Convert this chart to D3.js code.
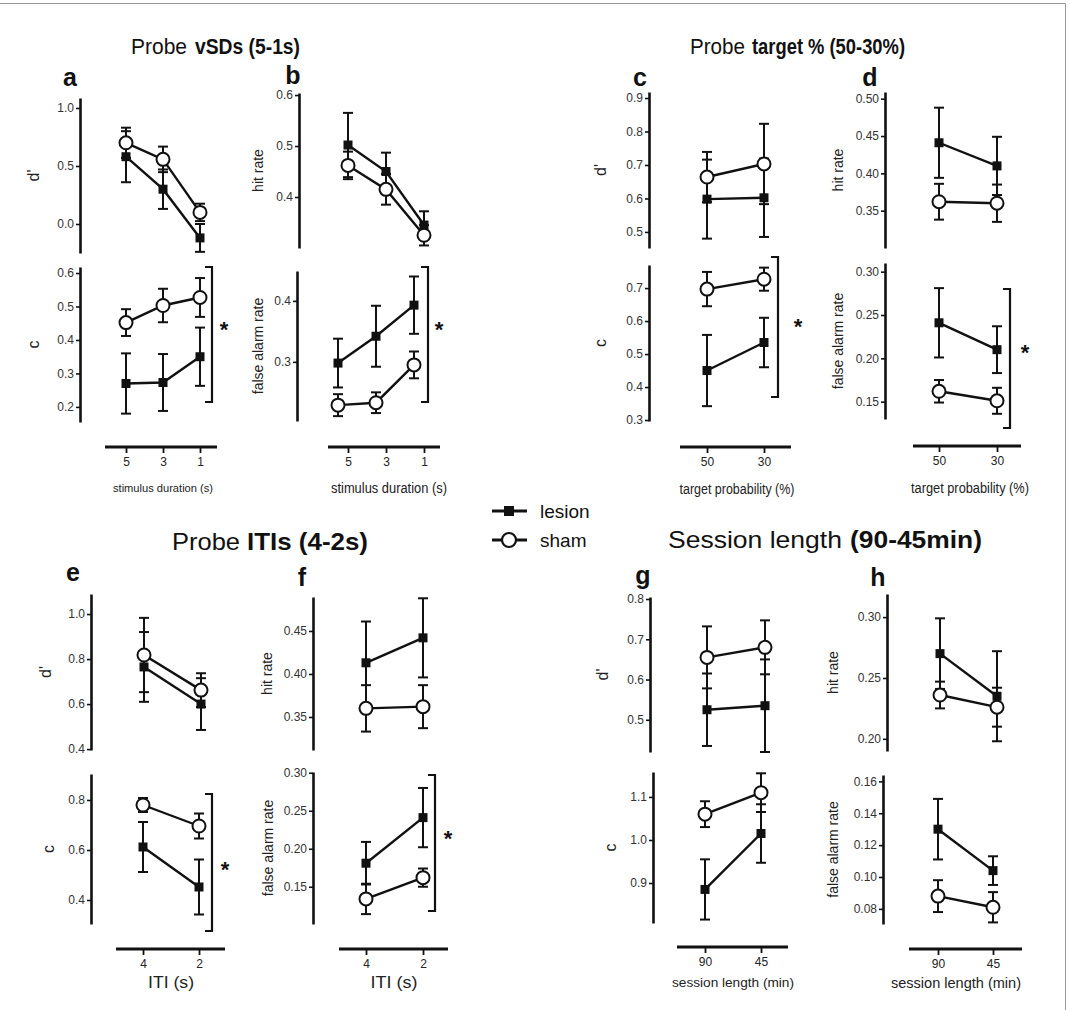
<!DOCTYPE html>
<html lang="en">
<head>
	<meta charset="UTF-8">
	<title>Probe tests</title>
	<style>
		body { margin: 0; background: #fff; }
		text { font-family: "Liberation Sans", Arial, Helvetica, sans-serif; fill: #111; }
	</style>
</head>
<body>
	<script src="https://d3js.org/d3.v7.min.js"></script>
	<script type="text/javascript">
		// categories
		var stimDuration = ["5", "3", "1"];
		var targetProb = ["50", "30"];
		var itiLevels = ["4", "2"];
		var sessionLen = ["90", "45"];

		// tick labels
		var ticksA1 = [0.0, 0.5, 1.0];
		var ticksA2 = [0.2, 0.3, 0.4, 0.5, 0.6];
		var ticksB1 = [0.4, 0.5, 0.6];
		var ticksB2 = [0.3, 0.4];
		var ticksC1 = [0.5, 0.6, 0.7, 0.8, 0.9];
		var ticksC2 = [0.3, 0.4, 0.5, 0.6, 0.7];
		var ticksD1 = [0.35, 0.40, 0.45, 0.50];
		var ticksD2 = [0.15, 0.20, 0.25, 0.30];
		var ticksE1 = [0.4, 0.6, 0.8, 1.0];
		var ticksE2 = [0.4, 0.6, 0.8];
		var ticksF1 = [0.35, 0.40, 0.45];
		var ticksF2 = [0.15, 0.20, 0.25, 0.30];
		var ticksG1 = [0.5, 0.6, 0.7, 0.8];
		var ticksG2 = [0.9, 1.0, 1.1];
		var ticksH1 = [0.20, 0.25, 0.30];
		var ticksH2 = [0.08, 0.10, 0.12, 0.14, 0.16];

		// a: vSDs d' / c
		var aDprimeLesion = [0.58, 0.30, -0.12], aDprimeLesionErr = [0.22, 0.17, 0.12];
		var aDprimeSham = [0.70, 0.557, 0.10], aDprimeShamErr = [0.13, 0.11, 0.075];
		var aCLesion = [0.27, 0.273, 0.35], aCLesionErr = [0.09, 0.085, 0.087];
		var aCSham = [0.452, 0.503, 0.527], aCShamErr = [0.04, 0.05, 0.058];
		// b: vSDs hit / false alarm
		var bHitLesion = [0.502, 0.45, 0.345], bHitLesionErr = [0.063, 0.037, 0.027];
		var bHitSham = [0.462, 0.415, 0.325], bHitShamErr = [0.027, 0.03, 0.02];
		var bFaLesion = [0.298, 0.342, 0.393], bFaLesionErr = [0.04, 0.05, 0.047];
		var bFaSham = [0.229, 0.233, 0.295], bFaShamErr = [0.018, 0.017, 0.022];
		// c: target % d' / c
		var cDprimeLesion = [0.598, 0.602], cDprimeLesionErr = [0.118, 0.117];
		var cDprimeSham = [0.664, 0.703], cDprimeShamErr = [0.075, 0.12];
		var cCLesion = [0.45, 0.535], cCLesionErr = [0.108, 0.075];
		var cCSham = [0.697, 0.727], cCShamErr = [0.052, 0.035];
		// d: target % hit / false alarm
		var dHitLesion = [0.441, 0.41], dHitLesionErr = [0.047, 0.039];
		var dHitSham = [0.362, 0.36], dHitShamErr = [0.024, 0.025];
		var dFaLesion = [0.241, 0.21], dFaLesionErr = [0.04, 0.027];
		var dFaSham = [0.162, 0.151], dFaShamErr = [0.013, 0.015];
		// e: ITIs d' / c
		var eDprimeLesion = [0.765, 0.60], eDprimeLesionErr = [0.155, 0.115];
		var eDprimeSham = [0.818, 0.662], eDprimeShamErr = [0.165, 0.075];
		var eCLesion = [0.612, 0.452], eCLesionErr = [0.10, 0.11];
		var eCSham = [0.78, 0.696], eCShamErr = [0.028, 0.05];
		// f: ITIs hit / false alarm
		var fHitLesion = [0.413, 0.442], fHitLesionErr = [0.048, 0.046];
		var fHitSham = [0.36, 0.362], fHitShamErr = [0.027, 0.025];
		var fFaLesion = [0.181, 0.241], fFaLesionErr = [0.028, 0.039];
		var fFaSham = [0.134, 0.162], fFaShamErr = [0.02, 0.012];
		// g: session length d' / c
		var gDprimeLesion = [0.525, 0.535], gDprimeLesionErr = [0.09, 0.115];
		var gDprimeSham = [0.655, 0.68], gDprimeShamErr = [0.077, 0.067];
		var gCLesion = [0.885, 1.015], gCLesionErr = [0.07, 0.068];
		var gCSham = [1.06, 1.11], gCShamErr = [0.03, 0.045];
		// h: session length hit / false alarm
		var hHitLesion = [0.27, 0.235], hHitLesionErr = [0.029, 0.037];
		var hHitSham = [0.236, 0.226], hHitShamErr = [0.011, 0.016];
		var hFaLesion = [0.13, 0.104], hFaLesionErr = [0.019, 0.009];
		var hFaSham = [0.088, 0.081], hFaShamErr = [0.01, 0.0095];

		var width = 1070;
		var height = 1010;
		var ink = "#111";

		var svg = d3.select("body").append("svg").attr("width", width).attr("height", height);

		// frame
		svg.append("path").attr("d", "M0,3.5H1065.5V1010").attr("fill", "none").attr("stroke", "#999").attr("stroke-width", 1);

		// layout for each panel (positions only)
		var panels = [
			{cats: stimDuration, ticks: ticksA1, fmt: ".1f", lab: "d'", ax: 80, py: [253, 98], dom: [-0.25, 1.086], xr: [126, 200], lx: 33,
				les: aDprimeLesion, lesE: aDprimeLesionErr, sh: aDprimeSham, shE: aDprimeShamErr},
			{cats: stimDuration, ticks: ticksA2, fmt: ".1f", lab: "c", ax: 80, py: [422, 267], dom: [0.155, 0.618], xr: [126, 200], lx: 33,
				les: aCLesion, lesE: aCLesionErr, sh: aCSham, shE: aCShamErr, br: [212, 267, 402], star: [224, 327]},
			{cats: stimDuration, ticks: ticksB1, fmt: ".1f", lab: "hit rate", ax: 299, py: [248, 93], dom: [0.30, 0.604], xr: [348, 424], lx: 258,
				les: bHitLesion, lesE: bHitLesionErr, sh: bHitSham, shE: bHitShamErr},
			{cats: stimDuration, ticks: ticksB2, fmt: ".1f", lab: "false alarm rate", ax: 297, py: [421, 271], dom: [0.203, 0.449], xr: [338, 414], lx: 258,
				les: bFaLesion, lesE: bFaLesionErr, sh: bFaSham, shE: bFaShamErr, br: [428, 267, 402], star: [439, 327]},
			{cats: targetProb, ticks: ticksC1, fmt: ".1f", lab: "d'", ax: 649, py: [248, 92], dom: [0.452, 0.918], xr: [707, 764], lx: 600,
				les: cDprimeLesion, lesE: cDprimeLesionErr, sh: cDprimeSham, shE: cDprimeShamErr},
			{cats: targetProb, ticks: ticksC2, fmt: ".1f", lab: "c", ax: 649, py: [421, 265], dom: [0.297, 0.77], xr: [707, 764], lx: 600,
				les: cCLesion, lesE: cCLesionErr, sh: cCSham, shE: cCShamErr, br: [778, 257, 397], star: [798, 324]},
			{cats: targetProb, ticks: ticksD1, fmt: ".2f", lab: "hit rate", ax: 885, py: [248, 92], dom: [0.30, 0.509], xr: [939, 997], lx: 838,
				les: dHitLesion, lesE: dHitLesionErr, sh: dHitSham, shE: dHitShamErr},
			{cats: targetProb, ticks: ticksD2, fmt: ".2f", lab: "false alarm rate", ax: 885, py: [419, 263], dom: [0.130, 0.310], xr: [939, 997], lx: 838,
				les: dFaLesion, lesE: dFaLesionErr, sh: dFaSham, shE: dFaShamErr, br: [1010, 289, 428], star: [1025, 350]},
			{cats: itiLevels, ticks: ticksE1, fmt: ".1f", lab: "d'", ax: 91, py: [750, 594], dom: [0.396, 1.089], xr: [144, 201], lx: 45,
				les: eDprimeLesion, lesE: eDprimeLesionErr, sh: eDprimeSham, shE: eDprimeShamErr},
			{cats: itiLevels, ticks: ticksE2, fmt: ".1f", lab: "c", ax: 91, py: [924, 774], dom: [0.304, 0.904], xr: [143, 199], lx: 48,
				les: eCLesion, lesE: eCLesionErr, sh: eCSham, shE: eCShamErr, br: [212, 794, 931], star: [225, 867]},
			{cats: itiLevels, ticks: ticksF1, fmt: ".2f", lab: "hit rate", ax: 313, py: [750, 597], dom: [0.3116, 0.4895], xr: [366, 423], lx: 267,
				les: fHitLesion, lesE: fHitLesionErr, sh: fHitSham, shE: fHitShamErr},
			{cats: itiLevels, ticks: ticksF2, fmt: ".2f", lab: "false alarm rate", ax: 313, py: [924, 772], dom: [0.101, 0.301], xr: [366, 423], lx: 268,
				les: fFaLesion, lesE: fFaLesionErr, sh: fFaSham, shE: fFaShamErr, br: [435, 775, 911], star: [448, 836]},
			{cats: sessionLen, ticks: ticksG1, fmt: ".1f", lab: "d'", ax: 650, py: [752, 597], dom: [0.42, 0.805], xr: [707, 765], lx: 602,
				les: gDprimeLesion, lesE: gDprimeLesionErr, sh: gDprimeSham, shE: gDprimeShamErr},
			{cats: sessionLen, ticks: ticksG2, fmt: ".1f", lab: "c", ax: 653, py: [923, 772], dom: [0.807, 1.158], xr: [705, 761], lx: 610,
				les: gCLesion, lesE: gCLesionErr, sh: gCSham, shE: gCShamErr},
			{cats: sessionLen, ticks: ticksH1, fmt: ".2f", lab: "hit rate", ax: 887, py: [751, 594], dom: [0.190, 0.319], xr: [940, 997], lx: 833,
				les: hHitLesion, lesE: hHitLesionErr, sh: hHitSham, shE: hHitShamErr},
			{cats: sessionLen, ticks: ticksH2, fmt: ".2f", lab: "false alarm rate", ax: 883, py: [924, 775], dom: [0.0705, 0.164], xr: [938, 993], lx: 833,
				les: hFaLesion, lesE: hFaLesionErr, sh: hFaSham, shE: hFaShamErr}
		];

		// shared x axes under each column
		var xAxes = [
			{cats: stimDuration, xr: [126, 200], line: [105, 217], y: 447, title: "stimulus duration (s)", size: 11, len: 100, tx: 163, ty: 492},
			{cats: stimDuration, xr: [348, 424], line: [328, 440], y: 447, title: "stimulus duration (s)", size: 14, len: 116, tx: 389, ty: 493},
			{cats: targetProb, xr: [707, 764], line: [680, 791], y: 447, title: "target probability (%)", size: 14, len: 115, tx: 737, ty: 494},
			{cats: targetProb, xr: [939, 997], line: [913, 1021], y: 446, title: "target probability (%)", size: 14, len: 118, tx: 970, ty: 493},
			{cats: itiLevels, xr: [143, 199], line: [116, 225], y: 949, title: "ITI (s)", size: 16, len: 46, tx: 171, ty: 988},
			{cats: itiLevels, xr: [366, 423], line: [339, 448], y: 949, title: "ITI (s)", size: 16, len: 47, tx: 394, ty: 988},
			{cats: sessionLen, xr: [705, 761], line: [677, 788], y: 947, title: "session length (min)", size: 12, len: 122, tx: 733, ty: 987},
			{cats: sessionLen, xr: [938, 993], line: [909, 1022], y: 949, title: "session length (min)", size: 14, len: 130, tx: 956, ty: 988}
		];

		panels.forEach(function(p) {
			var x = d3.scalePoint().domain(p.cats).range(p.xr);
			var y = d3.scaleLinear().domain(p.dom).range(p.py);
			var g = svg.append("g");

			// y axis
			var yAxis = d3.axisLeft(y).tickValues(p.ticks).tickFormat(d3.format(p.fmt))
				.tickSize(4).tickSizeOuter(0).tickPadding(2);
			var ag = g.append("g").attr("transform", "translate(" + p.ax + ",0)").call(yAxis);
			ag.select(".domain").attr("stroke", ink).attr("stroke-width", 2.6);
			ag.selectAll(".tick line").attr("stroke", ink).attr("stroke-width", 1.6);
			ag.selectAll(".tick text").style("font-size", "12px").style("fill", "#333");

			// y label
			g.append("text")
				.attr("transform", "translate(" + p.lx + "," + (p.py[0] + p.py[1]) / 2 + ") rotate(-90)")
				.attr("text-anchor", "middle").attr("dominant-baseline", "central")
				.style("font-size", p.lab.length > 2 ? "14px" : "16px")
				.style("fill", "#222")
				.text(p.lab);

			var series = [
				{v: p.les, e: p.lesE},
				{v: p.sh, e: p.shE}
			];

			var line = d3.line()
				.x(function(d, i) { return x(p.cats[i]); })
				.y(function(d) { return y(d); });

			series.forEach(function(s) {
				g.append("path").attr("d", line(s.v)).attr("fill", "none")
					.attr("stroke", ink).attr("stroke-width", 2.4);
			});

			series.forEach(function(s) {
				var eb = g.selectAll(null).data(s.v).enter().append("g")
					.attr("transform", function(d, i) { return "translate(" + x(p.cats[i]) + ",0)"; });
				eb.append("line")
					.attr("y1", function(d, i) { return y(d - s.e[i]); })
					.attr("y2", function(d, i) { return y(d + s.e[i]); })
					.attr("stroke", ink).attr("stroke-width", 2);
				eb.append("line").attr("x1", -5).attr("x2", 5)
					.attr("y1", function(d, i) { return y(d - s.e[i]); })
					.attr("y2", function(d, i) { return y(d - s.e[i]); })
					.attr("stroke", ink).attr("stroke-width", 2);
				eb.append("line").attr("x1", -5).attr("x2", 5)
					.attr("y1", function(d, i) { return y(d + s.e[i]); })
					.attr("y2", function(d, i) { return y(d + s.e[i]); })
					.attr("stroke", ink).attr("stroke-width", 2);
			});

			// markers
			g.selectAll(null).data(p.les).enter().append("rect")
				.attr("x", function(d, i) { return x(p.cats[i]) - 4.5; })
				.attr("y", function(d) { return y(d) - 4.5; })
				.attr("width", 9).attr("height", 9).attr("fill", ink);
			g.selectAll(null).data(p.sh).enter().append("circle")
				.attr("cx", function(d, i) { return x(p.cats[i]); })
				.attr("cy", function(d) { return y(d); })
				.attr("r", 6.5).attr("fill", "#fff").attr("stroke", ink).attr("stroke-width", 2);

			// significance bracket
			if (p.br) {
				g.append("path")
					.attr("d", "M" + (p.br[0] - 7) + "," + p.br[1] + "H" + p.br[0] + "V" + p.br[2] + "H" + (p.br[0] - 7))
					.attr("fill", "none").attr("stroke", ink).attr("stroke-width", 2.2);
				g.append("text").attr("x", p.star[0]).attr("y", p.star[1] + 10)
					.attr("text-anchor", "middle").style("font-size", "22px").style("font-weight", "bold")
					.text("*");
			}
		});

		xAxes.forEach(function(a) {
			var x = d3.scalePoint().domain(a.cats).range(a.xr);
			var g = svg.append("g");
			g.append("line").attr("x1", a.line[0]).attr("x2", a.line[1])
				.attr("y1", a.y).attr("y2", a.y).attr("stroke", ink).attr("stroke-width", 3);
			var ag = g.append("g").attr("transform", "translate(0," + a.y + ")")
				.call(d3.axisBottom(x).tickSize(6).tickSizeOuter(0).tickPadding(4));
			ag.select(".domain").remove();
			ag.selectAll(".tick line").attr("stroke", ink).attr("stroke-width", 1.8);
			ag.selectAll(".tick text").style("font-size", "12px").style("fill", "#222");
			g.append("text").attr("x", a.tx).attr("y", a.ty).attr("text-anchor", "middle")
				.attr("textLength", a.len).attr("lengthAdjust", "spacingAndGlyphs")
				.style("font-size", a.size + "px").style("fill", "#222")
				.text(a.title);
		});

		// panel letters
		var letters = [["a", 70, 86], ["b", 293, 84], ["c", 640, 86], ["d", 870, 86],
			["e", 73, 581], ["f", 302, 586], ["g", 643, 584], ["h", 878, 586]];
		svg.selectAll(null).data(letters).enter().append("text")
			.attr("x", function(d) { return d[1]; }).attr("y", function(d) { return d[2]; })
			.attr("text-anchor", "middle").style("font-size", "25px").style("font-weight", "bold")
			.text(function(d) { return d[0]; });

		// titles, plain and bold parts: [text, weight, left x, baseline y, size, width]
		var titleParts = [
			["Probe", "normal", 131, 54, 22, 56], ["vSDs (5-1s)", "bold", 195, 54, 22, 105],
			["Probe", "normal", 690, 54, 22, 55], ["target % (50-30%)", "bold", 752, 54, 22, 153],
			["Probe", "normal", 172, 550, 24, 68], ["ITIs (4-2s)", "bold", 247, 550, 24, 121],
			["Session length", "normal", 668, 548, 24, 174], ["(90-45min)", "bold", 850, 548, 24, 132]
		];
		svg.selectAll(null).data(titleParts).enter().append("text")
			.attr("x", function(d) { return d[2]; }).attr("y", function(d) { return d[3]; })
			.attr("textLength", function(d) { return d[5]; }).attr("lengthAdjust", "spacingAndGlyphs")
			.style("font-size", function(d) { return d[4] + "px"; })
			.style("font-weight", function(d) { return d[1]; })
			.text(function(d) { return d[0]; });

		// legend
		var legend = svg.append("g");
		legend.append("line").attr("x1", 492).attr("x2", 527).attr("y1", 511).attr("y2", 511)
			.attr("stroke", ink).attr("stroke-width", 3);
		legend.append("rect").attr("x", 504).attr("y", 506).attr("width", 10).attr("height", 10).attr("fill", ink);
		legend.append("line").attr("x1", 492).attr("x2", 527).attr("y1", 540).attr("y2", 540)
			.attr("stroke", ink).attr("stroke-width", 3);
		legend.append("circle").attr("cx", 509).attr("cy", 540).attr("r", 7)
			.attr("fill", "#fff").attr("stroke", ink).attr("stroke-width", 2.2);
		legend.append("text").attr("x", 540).attr("y", 518).style("font-size", "19px").text("lesion");
		legend.append("text").attr("x", 540).attr("y", 547).style("font-size", "19px").text("sham");
	</script>
</body>
</html>
